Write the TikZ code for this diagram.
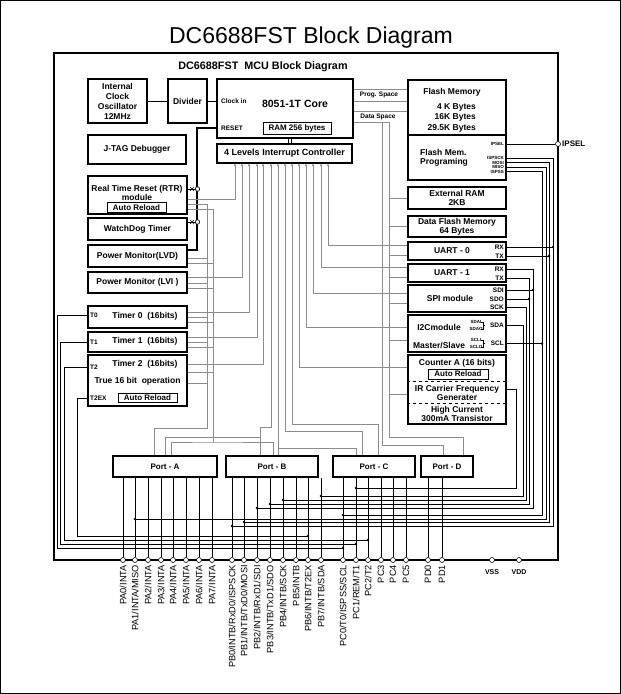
\documentclass[tikz,border=0pt]{standalone}
\usepackage{fontspec}
\setmainfont{Liberation Sans}
\usetikzlibrary{arrows.meta}
\newcommand\fsz[2]{\fontsize{#1}{#2}\selectfont}

\tikzset{
  blk/.style={draw,line width=1.1pt,inner sep=0pt,align=center,font=\bfseries\fsz{8.5}{10}},
  arbox/.style={draw,line width=0.6pt,inner sep=0pt,font=\bfseries\fsz{8}{9}},
  txt/.style={inner sep=0pt,align=center,font=\bfseries\fsz{8.5}{9}},
  sml/.style={inner sep=0pt,font=\bfseries\fsz{6.5}{7}},
  tny/.style={inner sep=0pt,font=\bfseries\fsz{4.5}{4.5}},
  wire/.style={draw=black!45,line width=0.7pt},
  irq/.style={wire,-{Stealth[length=3pt,width=2.4pt]}},
  pinw/.style={draw=black,line width=0.6pt},
  pin/.style={circle,draw,fill=white,line width=0.6pt,inner sep=0pt,minimum size=5pt},
  pinlbl/.style={rotate=90,anchor=east,inner sep=0pt,font=\fsz{9.2}{10}},
}

\begin{document}
\begin{tikzpicture}[x=1pt,y=-1pt]
\useasboundingbox (0,0) rectangle (621,694);
\draw[line width=0.8pt] (0.4,0.4) rectangle (620.6,693.6);
\node (title) at (311,38) {\fsz{23}{25}DC6688FST Block Diagram};
\draw[line width=1.4pt] (54,53) rectangle (558,560);
\node[font=\bfseries\fsz{10.8}{12}] (sub) at (263,67) {DC6688FST\ \ MCU Block Diagram};

% core row
\node[blk,minimum width=59pt,minimum height=44pt] (osc) at (117.5,101) {Internal\\Clock\\Oscillator\\12MHz};
\node[blk,minimum width=39pt,minimum height=44pt] (div) at (187.5,101) {Divider};
\node[blk,minimum width=136pt,minimum height=59pt] (core) at (285,108.5) {};
\node[font=\bfseries\fsz{10.5}{12}] (corelbl) at (295,104) {8051-1T Core};
\node[sml,anchor=west] (clkin) at (221,101) {Clock in};
\node[sml,anchor=west] (rst) at (221,128) {RESET};
\node[arbox,minimum width=68pt,minimum height=12pt] (ram) at (297,128) {RAM 256 bytes};
\node[blk,minimum width=98pt,minimum height=29pt] (jtag) at (137,149.5) {J-TAG Debugger};
\node[blk,minimum width=135pt,minimum height=19pt,font=\bfseries\fsz{9}{10}] (ic) at (284.5,153.5) {4 Levels Interrupt Controller};
\draw[line width=0.7pt] (osc) -- (div);
\draw[line width=0.7pt] (div) -- (core.west |- div);
\draw[line width=0.7pt] (core.south -| 288,0) -- (ic.north -| 288,0) (core.south -| 291,0) -- (ic.north -| 291,0);

% left column
\node[blk,minimum width=99pt,minimum height=38pt] (rtr) at (137.5,195) {};
\node[txt] (rtrlbl) at (137,193) {Real Time Reset (RTR)\\module};
\node[arbox,minimum width=59pt,minimum height=10pt] (rtrar) at (136.5,207.5) {Auto Reload};
\node[blk,minimum width=99pt,minimum height=22pt] (wdt) at (137.5,229) {WatchDog Timer};
\node[blk,minimum width=99pt,minimum height=22pt] (lvd) at (137.5,256) {Power Monitor(LVD)};
\node[blk,minimum width=99pt,minimum height=21pt] (lvi) at (137.5,282.5) {Power Monitor (LVI )};
\node[blk,minimum width=99pt,minimum height=22pt] (t0) at (137.5,317) {};
\node[txt] (t0lbl) at (145,316) {Timer 0\ \ (16bits)};
\node[sml,anchor=west] (t0pin) at (90,315) {T0};
\node[blk,minimum width=99pt,minimum height=20pt] (t1) at (137.5,342) {};
\node[txt] (t1lbl) at (145,341) {Timer 1\ \ (16bits)};
\node[sml,anchor=west] (t1pin) at (90,342) {T1};
\node[blk,minimum width=99pt,minimum height=51pt] (t2) at (137.5,380.5) {};
\node[txt] (t2lbl) at (145,364) {Timer 2\ \ (16bits)};
\node[txt] (t2op) at (137.5,381) {True 16 bit\ \ operation};
\node[sml,anchor=west] (t2pin) at (90,367) {T2};
\node[sml,anchor=west] (t2ex) at (90,398) {T2EX};
\node[arbox,minimum width=59pt,minimum height=9pt] (t2ar) at (147.5,398) {Auto Reload};

% right column
\node[blk,minimum width=98pt,minimum height=55pt] (flash) at (457,107.5) {};
\node[txt] (flbl) at (452,92) {Flash Memory};
\node[txt,anchor=east] (f4k) at (476,107) {4 K Bytes};
\node[txt,anchor=east] (f16k) at (476,117.5) {16K Bytes};
\node[txt,anchor=east] (f29k) at (476,128) {29.5K Bytes};
\node[blk,minimum width=98pt,minimum height=45pt] (fprog) at (457,157.5) {};
\node[txt,align=left,anchor=west] (fplbl) at (420,158) {Flash Mem.\\Programing};
\node[tny,anchor=east] (sipsel) at (504,144) {IPSEL};
\node[tny,anchor=east] (sisck) at (504,158) {ISPSCK};
\node[tny,anchor=east] (smosi) at (504,162.5) {MOSI};
\node[tny,anchor=east] (smiso) at (504,167) {MISO};
\node[tny,anchor=east] (siss) at (504,171.5) {ISPSS};
\node[blk,minimum width=98pt,minimum height=22pt] (xram) at (457,198) {};
\node[txt] (xlbl) at (xram) {External RAM\\2KB};
\node[blk,minimum width=98pt,minimum height=21pt] (dflash) at (457,226.5) {};
\node[txt] (dlbl) at (dflash) {Data Flash Memory\\64 Bytes};
\node[blk,minimum width=98pt,minimum height=18pt] (u0) at (457,251) {};
\node[txt] (u0lbl) at (452,251) {UART - 0};
\node[sml,anchor=east] (u0rx) at (504,247) {RX};
\node[sml,anchor=east] (u0tx) at (504,256) {TX};
\node[blk,minimum width=98pt,minimum height=18pt] (u1) at (457,273) {};
\node[txt] (u1lbl) at (452,273) {UART - 1};
\node[sml,anchor=east] (u1rx) at (504,269) {RX};
\node[sml,anchor=east] (u1tx) at (504,278) {TX};
\node[blk,minimum width=98pt,minimum height=27pt] (spi) at (457,298.5) {};
\node[txt] (spilbl) at (450,298) {SPI module};
\node[sml,anchor=east] (ssdi) at (504,290) {SDI};
\node[sml,anchor=east] (ssdo) at (504,299) {SDO};
\node[sml,anchor=east] (ssck) at (504,307) {SCK};
\node[blk,minimum width=98pt,minimum height=37pt] (i2c) at (457,333.5) {};
\node[txt] (i2clbl) at (439,327) {I2Cmodule};
\node[txt] (mslbl) at (439,345) {Master/Slave};
\node[tny] (sdai) at (476,322) {SDAI};
\node[tny] (sdao) at (476,329) {SDAO};
\node[tny] (scli) at (476,340) {SCLI};
\node[tny] (sclo) at (476,347) {SCLO};
\draw[line width=0.5pt] (481,322) -- (483,322) -- (483,329) -- (481,329) (483,325.5) -- (485,325.5);
\draw[line width=0.5pt] (481,340) -- (483,340) -- (483,347) -- (481,347) (483,343.5) -- (485,343.5);
\node[sml,anchor=east] (ssda) at (504,325.5) {SDA};
\node[sml,anchor=east] (sscl) at (504,343.5) {SCL};
\node[blk,minimum width=98pt,minimum height=69pt] (cnt) at (457,389.5) {};
\node[txt] (cntlbl) at (457,363) {Counter A (16 bits)};
\node[arbox,minimum width=60pt,minimum height=10pt] (cntar) at (458,374) {Auto Reload};
\draw[dashed,line width=0.7pt] (cnt.west |- 0,381) -- (cnt.east |- 0,381) (cnt.west |- 0,403) -- (cnt.east |- 0,403);
\node[txt,font=\bfseries\fsz{8.5}{8.5}] (irlbl) at (457,393) {IR Carrier Frequency\\Generater};
\node[txt] (hclbl) at (457,413.5) {High Current\\300mA Transistor};

% ports
\node[blk,minimum width=104pt,minimum height=21pt,font=\bfseries\fsz{8}{9}] (pa) at (165,466.5) {Port - A};
\node[blk,minimum width=92pt,minimum height=21pt,font=\bfseries\fsz{8}{9}] (pb) at (272,466.5) {Port - B};
\node[blk,minimum width=82pt,minimum height=21pt,font=\bfseries\fsz{8}{9}] (pc) at (374,466.5) {Port - C};
\node[blk,minimum width=52pt,minimum height=21pt,font=\bfseries\fsz{8}{9}] (pd) at (447,466.5) {Port - D};

\foreach \n/\px/\pt/\lab in {A0/123/pa/{PA0/INTA},A1/135/pa/{PA1/INTA/MISO},A2/148/pa/{PA2/INTA},
  A3/161/pa/{PA3/INTA},A4/173/pa/{PA4/INTA},A5/186/pa/{PA5/INTA},A6/199/pa/{PA6/INTA},A7/212/pa/{PA7/INTA},
  B0/232/pb/{PB0/INTB/RxD0/ISPSCK},B1/244/pb/{PB1/INTB/TxD0/MOSI},B2/257/pb/{PB2/INTB/RxD1/SDI},
  B3/270/pb/{PB3/INTB/TxD1/SDO},B4/283/pb/{PB4/INTB/SCK},B5/296/pb/{PB5/INTB},B6/308/pb/{PB6/INTB/T2EX},
  B7/321/pb/{PB7/INTB/SDA},C0/343/pc/{PC0/T0/ISPSS/SCL},C1/356/pc/{PC1/REM/T1},C2/368/pc/{PC2/T2},
  C3/381/pc/{PC3},C4/393/pc/{PC4},C5/406/pc/{PC5},D0/428/pd/{PD0},D1/442/pd/{PD1}}{
  \node[pin] (p\n) at (\px,560) {};
  \draw[pinw] (\pt.south -| p\n) -- (p\n);
  \node[pinlbl] (l\n) at (\px,565) {\lab};
}
\node[pin] (pvss) at (492,560) {};
\node[pin] (pvdd) at (519,560) {};
\node[sml,font=\bfseries\fsz{7}{8}] (lvss) at (492,572) {VSS};
\node[sml,font=\bfseries\fsz{7}{8}] (lvdd) at (519,572) {VDD};
\node[pin] (ipsel) at (558,144) {};
\node[anchor=west,inner sep=0pt,font=\bfseries\fsz{8}{9}] (lipsel) at (562,144) {IPSEL};

% reset
\draw[line width=1.6pt] (core.west |- 0,128) -| (197,250) -- (lvd.east |- 0,250);
\foreach \bx/\yy in {rtr/189,wdt/222}{
  \draw[line width=0.6pt] (\bx.east |- 0,\yy) -- (195,\yy);
  \draw[line width=0.5pt] (190,\yy-2) -- (194,\yy+2) (190,\yy+2) -- (194,\yy-2);
  \node[pin,minimum size=4.5pt] (x\bx) at (197.5,\yy) {};
}

% internal buses
\draw[wire] (rtr.east |- 0,204) -| (207,428) -| (pa.north -| 154,0);
\draw[wire] (rtr.east |- 0,209) -| (213,442);
\draw[wire] (pa.north -| 171,0) |- (213,442) -| (pb.north -| 273,0);
\foreach \bx/\yy in {lvd/258,lvi/283,t0/317,t1/342,t2/383}
  \draw[wire] (\bx.east |- 0,\yy) -- (207,\yy);
\foreach \bx/\yy in {lvd/263,lvi/288,t0/322,t1/347,t2/372}
  \draw[wire] (\bx.east |- 0,\yy) -- (213,\yy);
\foreach \bx/\yy/\xx in {rtr/199/235,lvi/277/242,t0/312/249,t1/337/257,t2/364/263}
  \draw[irq] (\bx.east |- 0,\yy) -| (ic.south -| \xx,0);
\foreach \bx/\yy/\xx in {u0/245/328,u1/267/321,spi/293/313,i2c/327/306,cnt/367/299}
  \draw[irq] (\bx.west |- 0,\yy) -| (ic.south -| \xx,0);
\draw[irq] (pb.north -| 260,0) |- (271,427) -- (ic.south -| 271,0);
\draw[wire] (pa.north -| 165,0) |- (260,437);
\draw[irq] (pb.north -| 278,0) -- (ic.south -| 278,0);
\draw[wire] (278,448) -| (pc.north -| 356,0);
\draw[irq] (pc.north -| 362,0) |- (285,431) -- (ic.south -| 285,0);
\draw[irq] (pc.north -| 378,0) |- (292,424) -- (ic.south -| 292,0);

% program / data space
\draw[wire] (core.east |- 0,89) -- (flash.west |- 0,89) (core.east |- 0,101) -- (flash.west |- 0,101)
  (core.east |- 0,111) -- (flash.west |- 0,111);
\node[sml] (prog) at (379,95) {Prog. Space};
\node[sml] (data) at (378,116.5) {Data Space};
\draw[wire] (core.east |- 0,122) -| (389,437) -| (pd.north -| 463,0);
\draw[wire] (382,122) |- (443,445) -- (pd.north -| 443,0);
\foreach \bx/\yy in {xram/198,dflash/226,u0/255,u1/277,spi/303,i2c/340,cnt/394}
  \draw[wire] (389,\yy) -- (\bx.west |- 0,\yy);

% pins on the right
\draw[pinw] (fprog.east |- 0,144) -- (ipsel);
\draw[pinw] (fprog.east |- 0,158) -| (553,526) -- (pB0 |- 0,526);
\draw[pinw] (fprog.east |- 0,162.5) -| (549,522) -- (pB1 |- 0,522);
\draw[pinw] (fprog.east |- 0,167) -| (546,519) -- (pA1 |- 0,519);
\draw[pinw] (fprog.east |- 0,171.5) -| (542,515) -- (pC0 |- 0,515);
\draw[pinw] (u0.east |- 0,247) -- (553,247) (u0.east |- 0,256) -- (549,256);
\draw[pinw] (u1.east |- 0,269) -| (533,508) -- (pB2 |- 0,508);
\draw[pinw] (u1.east |- 0,278) -| (529,504) -- (pB3 |- 0,504);
\draw[pinw] (spi.east |- 0,290) -- (533,290) (spi.east |- 0,299) -- (529,299);
\draw[pinw] (spi.east |- 0,307) -| (526,500) -- (pB4 |- 0,500);
\draw[pinw] (i2c.east |- 0,325.5) -| (523,496) -- (pB7 |- 0,496);
\draw[pinw] (i2c.east |- 0,343.5) -- (542,343.5);
\draw[pinw] (cnt.east |- 0,389) -| (516,488) -- (pC1 |- 0,488);

% timer pins
\draw[pinw] (t0.west |- 0,315) -| (57,548) -- (pC0 |- 0,548);
\draw[pinw] (t1.west |- 0,342) -| (60,544) -- (pC1 |- 0,544);
\draw[pinw] (t2.west |- 0,367) -| (64,540) -- (pC2 |- 0,540);
\draw[pinw] (t2.west |- 0,398) -| (77,536) -- (pB6 |- 0,536);

\foreach \pp/\yy in {B0/526,B1/522,A1/519,C0/515,B2/508,B3/504,B4/500,B7/496,C1/488,B6/536,C2/540,C1/544,C0/548}
  \fill (p\pp |- 0,\yy) circle (1.4);
\foreach \xx/\yy in {553/247,549/256,533/290,529/299,542/343.5}
  \fill (\xx,\yy) circle (1.4);
\end{tikzpicture}
\end{document}
